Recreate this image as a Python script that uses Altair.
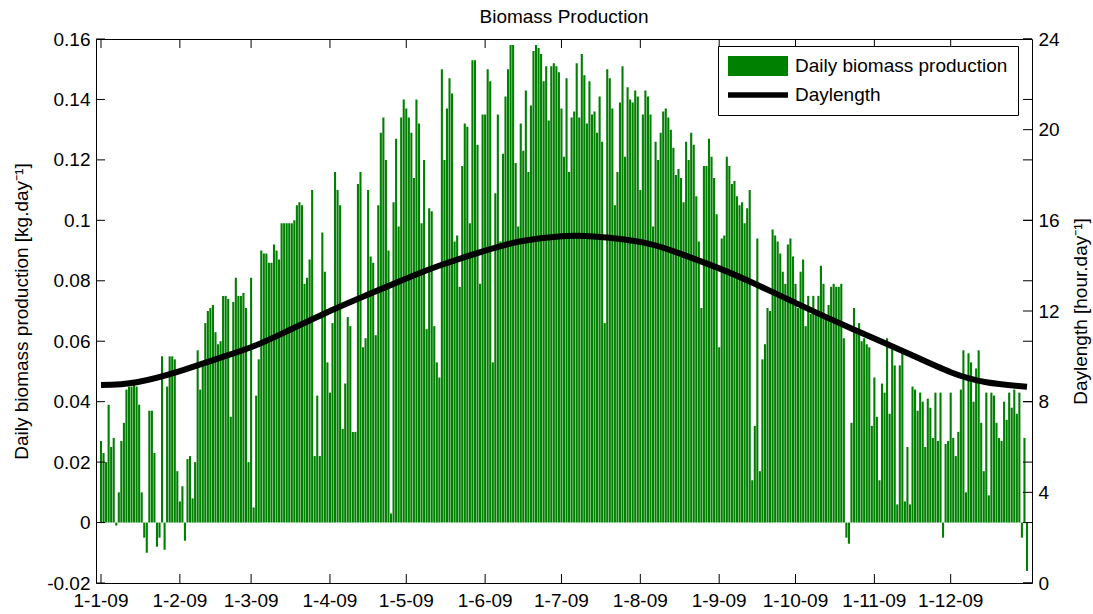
import altair as alt
import pandas as pd

# ---------------- data ----------------
JAN = [0.027, 0.023, 0.020, 0.039, 0.025, 0.028, -0.001, 0.010, 0.027, 0.033,
       0.044, 0.045, 0.045, 0.046, 0.045, 0.039, 0.010, -0.005, -0.010, 0.037,
       0.037, 0.023, -0.008, -0.005, 0.055, -0.009, 0.045, 0.055, 0.055, 0.054, 0.017]
FEB = [0.007, 0.012, -0.006, 0.021, 0.022, 0.008, 0.020, 0.057, 0.044, 0.052,
       0.066, 0.070, 0.071, 0.072, 0.063, 0.059, 0.060, 0.075, 0.075, 0.074,
       0.035, 0.073, 0.081, 0.075, 0.075, 0.076, 0.071, 0.020]
MAR = [0.081, 0.005, 0.042, 0.054, 0.090, 0.089, 0.089, 0.086, 0.086, 0.092,
       0.090, 0.087, 0.099, 0.099, 0.099, 0.099, 0.099, 0.100, 0.105, 0.106,
       0.105, 0.079, 0.081, 0.087, 0.110, 0.022, 0.042, 0.022, 0.096, 0.083, 0.053]
APR = [0.043, 0.066, 0.116, 0.110, 0.105, 0.031, 0.046, 0.068, 0.065, 0.030,
       0.030, 0.112, 0.116, 0.058, 0.061, 0.110, 0.088, 0.086, 0.062, 0.105,
       0.129, 0.134, 0.120, 0.090, 0.003, 0.106, 0.127, 0.098, 0.134, 0.140]
MAY = [0.137, 0.134, 0.129, 0.114, 0.140, 0.132, 0.099, 0.120, 0.064, 0.104,
       0.103, 0.065, 0.053, 0.048, 0.150, 0.120, 0.137, 0.147, 0.142, 0.093,
       0.095, 0.078, 0.118, 0.132, 0.131, 0.099, 0.153, 0.153, 0.125, 0.079, 0.135]
JUN = [0.135, 0.150, 0.146, 0.053, 0.109, 0.135, 0.093, 0.122, 0.141, 0.150,
       0.158, 0.158, 0.119, 0.098, 0.132, 0.123, 0.143, 0.116, 0.138, 0.156,
       0.158, 0.157, 0.155, 0.146, 0.151, 0.133, 0.151, 0.152, 0.151, 0.149]
JUL = [0.137, 0.121, 0.147, 0.116, 0.134, 0.136, 0.152, 0.134, 0.155, 0.148,
       0.132, 0.146, 0.135, 0.136, 0.129, 0.141, 0.126, 0.066, 0.150, 0.147,
       0.137, 0.105, 0.116, 0.139, 0.151, 0.121, 0.144, 0.140, 0.139, 0.143, 0.141]
AUG = [0.110, 0.135, 0.143, 0.141, 0.135, 0.098, 0.126, 0.120, 0.129, 0.136,
       0.137, 0.134, 0.130, 0.124, 0.115, 0.117, 0.114, 0.106, 0.126, 0.120,
       0.129, 0.125, 0.108, 0.093, 0.071, 0.118, 0.118, 0.127, 0.121, 0.114, 0.102]
SEP = [0.058, 0.094, 0.095, 0.121, 0.118, 0.112, 0.113, 0.108, 0.105, 0.106,
       0.099, 0.104, 0.110, 0.014, 0.032, 0.094, 0.017, 0.054, 0.059, 0.071,
       0.070, 0.097, 0.095, 0.093, 0.089, 0.083, 0.079, 0.092, 0.094, 0.088]
OCT = [0.079, 0.071, 0.083, 0.087, 0.065, 0.075, 0.069, 0.075, 0.070, 0.075,
       0.085, 0.079, 0.068, 0.072, 0.078, 0.079, 0.078, 0.078, 0.079, 0.061,
       -0.005, -0.007, 0.033, 0.071, 0.063, 0.066, 0.060, 0.061, 0.059, 0.058, 0.032]
NOV = [0.048, 0.035, 0.014, 0.046, 0.043, 0.061, 0.036, 0.058, 0.052, 0.006,
       0.052, 0.057, 0.007, 0.025, 0.006, 0.045, 0.044, 0.037, 0.043, 0.040,
       0.025, 0.041, 0.038, 0.028, 0.043, 0.027, 0.043, -0.005, 0.026, 0.027]
DEC = [0.043, 0.028, 0.022, 0.030, 0.044, 0.057, 0.010, 0.056, 0.053, 0.040,
       0.051, 0.057, 0.033, 0.017, 0.043, 0.009, 0.043, 0.042, 0.033, 0.028,
       0.027, 0.040, 0.034, 0.043, 0.038, 0.044, 0.036, 0.043, -0.005, 0.028, -0.016]

DL_DATES = ["2009-01-01", "2009-01-15", "2009-02-01", "2009-02-15", "2009-03-01",
            "2009-03-15", "2009-04-01", "2009-04-15", "2009-05-01", "2009-05-15",
            "2009-06-01", "2009-06-15", "2009-07-01", "2009-07-15", "2009-08-01",
            "2009-08-15", "2009-09-01", "2009-09-15", "2009-10-01", "2009-10-15",
            "2009-11-01", "2009-11-15", "2009-12-01", "2009-12-15", "2009-12-31"]
DL_HOURS = [8.73, 8.86, 9.35, 9.87, 10.40, 11.10, 12.00, 12.68, 13.43, 14.04,
            14.66, 15.08, 15.30, 15.28, 15.05, 14.60, 13.88, 13.20, 12.36, 11.63,
            10.79, 10.09, 9.30, 8.86, 8.66]

LEFT_TICKS = [-0.02, 0.0, 0.02, 0.04, 0.06, 0.08, 0.1, 0.12, 0.14, 0.16]
RIGHT_TICKS = [0, 4, 8, 12, 16, 20, 24]
MONTH_STARTS = ["2009-%02d-01" % m for m in range(1, 13)]
MONTH_LABELS = ["1-1-09", "1-2-09", "1-3-09", "1-4-09", "1-5-09", "1-6-09",
                "1-7-09", "1-8-09", "1-9-09", "1-10-09", "1-11-09", "1-12-09"]
SERIES = ["Daily biomass production", "Daylength"]

TITLE = "Biomass Production"
LEFT_TITLE = "Daily biomass production [kg.day\u207b\u00b9]"
RIGHT_TITLE = "Daylength [hour.day\u207b\u00b9]"

# ---------------- tables ----------------
values = JAN + FEB + MAR + APR + MAY + JUN + JUL + AUG + SEP + OCT + NOV + DEC
dates = pd.date_range("2009-01-01", "2009-12-31", freq="D").strftime("%Y-%m-%d")
bars_df = pd.DataFrame({"date": list(dates), "value": values})
dl_df = pd.DataFrame({"date": DL_DATES, "hours": DL_HOURS})
key_df = pd.DataFrame({"series": SERIES})
lt_df = pd.DataFrame({"value": LEFT_TICKS})
rt_df = pd.DataFrame({"hours": RIGHT_TICKS})
mt_df = pd.DataFrame({"date": MONTH_STARTS, "label": MONTH_LABELS})

def ms(s):
    return int(pd.Timestamp(s, tz="UTC").value // 10**6)

W, H = 936, 544
FONT = "Liberation Sans"
FS = 19
TL = 9  # inward tick length
GREEN = "#008000"

xscale = alt.Scale(type="utc", domain=[ms("2009-01-01"), ms("2009-12-31")])
yl_scale = alt.Scale(domain=[-0.02, 0.16], nice=False, zero=False)
yr_scale = alt.Scale(domain=[0, 24], nice=False, zero=False)

yl_axis = alt.Axis(values=LEFT_TICKS,
                   labelExpr="datum.value < 0 ? '-' + format(-datum.value, '.2~f') : format(datum.value, '.2~f')",
                   ticks=False, domain=False, grid=False, labelFontSize=FS, labelFont=FONT,
                   labelPadding=6, titleFontSize=FS, titleFont=FONT, titleFontWeight="normal",
                   titlePadding=15, labelColor="black", titleColor="black")

yr_axis = alt.Axis(orient="right", values=RIGHT_TICKS, ticks=False, domain=False, grid=False,
                   labelFontSize=FS, labelFont=FONT, labelPadding=6, titleFontSize=FS,
                   titleFont=FONT, titleFontWeight="normal", titlePadding=12,
                   titleAngle=270, titleBaseline="top", labelColor="black", titleColor="black")

legend = alt.Legend(
    title=None, orient="none", legendX=622, legendY=7, direction="vertical",
    labelFont=FONT, labelFontSize=FS, labelColor="black", labelOffset=47, labelLimit=400,
    symbolSize=400, symbolStrokeWidth=0, symbolOpacity=1,
    rowPadding=9, padding=10, strokeColor="black", fillColor="white",
)

def X():
    return alt.X("date:T", scale=xscale, axis=None)

bars = alt.Chart(bars_df).mark_bar(size=2.1, clip=True, color=GREEN).encode(
    x=X(),
    y=alt.Y("value:Q", scale=yl_scale, axis=yl_axis, title=LEFT_TITLE),
)

line = alt.Chart(dl_df).mark_line(strokeWidth=6, interpolate="natural", clip=True,
                                  color="black").encode(
    x=X(),
    y=alt.Y("hours:Q", scale=yr_scale, axis=yr_axis, title=RIGHT_TITLE),
)

# legend key: invisible points carrying the colour and swatch shape of each series
key = alt.Chart(key_df).mark_point(filled=True, opacity=0).encode(
    color=alt.Color("series:N", scale=alt.Scale(domain=SERIES, range=[GREEN, "#000000"]),
                    legend=legend),
    shape=alt.Shape("series:N", scale=alt.Scale(domain=SERIES,
                    range=["M-1,-1H5V1H-1Z", "M-1,-0.28H5V0.28H-1Z"]), legend=legend),
)

left_ticks_l = alt.Chart(lt_df).mark_rule(color="black", strokeWidth=1).encode(
    y=alt.Y("value:Q", scale=yl_scale, axis=None),
    x=alt.value(0), x2=alt.value(TL))
left_ticks_r = alt.Chart(lt_df).mark_rule(color="black", strokeWidth=1).encode(
    y=alt.Y("value:Q", scale=yl_scale, axis=None),
    x=alt.value(W - TL), x2=alt.value(W))
right_ticks = alt.Chart(rt_df).mark_rule(color="black", strokeWidth=1).encode(
    y=alt.Y("hours:Q", scale=yr_scale, axis=None),
    x=alt.value(W - TL), x2=alt.value(W))
month_top = alt.Chart(mt_df).mark_rule(color="black", strokeWidth=1).encode(
    x=X(), y=alt.value(0), y2=alt.value(TL))
month_bot = alt.Chart(mt_df).mark_rule(color="black", strokeWidth=1).encode(
    x=X(), y=alt.value(H - TL), y2=alt.value(H))
month_lab = alt.Chart(mt_df).mark_text(font=FONT, fontSize=FS, color="black",
                                       align="center", baseline="top").encode(
    x=X(), y=alt.value(H + 9), text="label:N")

chart = alt.layer(bars, line, left_ticks_l, left_ticks_r, right_ticks, month_top, month_bot,
                  month_lab, key
                  ).resolve_scale(y="independent").properties(
    width=W, height=H,
    autosize=alt.AutoSizeParams(type="none"),
    padding={"left": 96, "top": 39, "right": 61, "bottom": 31},
    title=alt.TitleParams(TITLE, fontSize=FS, font=FONT, fontWeight="normal", color="black",
                          anchor="middle", baseline="top", offset=3, frame="group"),
).configure(font=FONT, background="white").configure_view(stroke="black", strokeWidth=1)

chart.save("out.html", embed_options={"renderer": "svg", "actions": False})
